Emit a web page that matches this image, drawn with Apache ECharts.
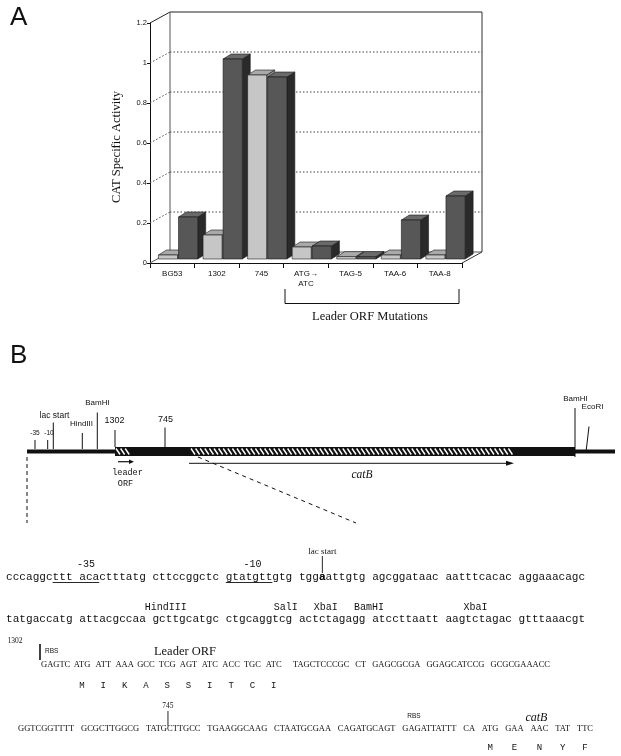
<!DOCTYPE html>
<html><head><meta charset="utf-8">
<script src="https://cdn.jsdelivr.net/npm/echarts@6/dist/echarts.min.js"></script>
<style>html,body{margin:0;padding:0;background:#fff}#c{width:621px;height:756px}</style>
</head><body><div id="c"></div>
<script>
// ---------- Panel A data ----------
const categories = ['BG53', '1302', '745', 'ATG\u2192\nATC', 'TAG-5', 'TAA-6', 'TAA-8'];
const lightValues = [0.02, 0.12, 0.92, 0.06, 0.012, 0.02, 0.02];
const darkValues  = [0.21, 1.00, 0.91, 0.065, 0.012, 0.195, 0.315];
const yTicks = [0, 0.2, 0.4, 0.6, 0.8, 1.0, 1.2];

// ---------- Panel B text content ----------
const seqLine1 = 'cccaggcttt acactttatg cttccggctc gtatgttgtg tggaattgtg agcggataac aatttcacac aggaaacagc';
const seqLine2 = 'tatgaccatg attacgccaa gcttgcatgc ctgcaggtcg actctagagg atccttaatt aagtctagac gtttaaacgt';
const line3Lead = 'GAGTC';
const line3Codons = ['ATG','ATT','AAA','GCC','TCG','AGT','ATC','ACC','TGC','ATC'];
const line3Tail = ['TAGCTCCCGC','CT','GAGCGCGA','GGAGCATCCG','GCGCGAAACC'];
const line3Aa = ['M','I','K','A','S','S','I','T','C','I'];
const line4Tokens = ['GGTCGGTTTT','GCGCTTGGCG','TATGCTTGCC','TGAAGGCAAG','CTAATGCGAA','CAGATGCAGT','GAGATTATTT','CA','ATG','GAA','AAC','TAT','TTC'];
const line4Aa = ['M','E','N','Y','F'];
const siteLabels2 = ['HindIII','SalI','XbaI','BamHI','XbaI'];

// ---------- layout ----------
const DEPTH = [20, -11];
const BAR_D = [8, -5];
const SANS = "'Liberation Sans', Arial, sans-serif";
const SERIF = "'Liberation Serif', 'Times New Roman', serif";
const MONO = "'Liberation Mono', 'Courier New', monospace";
const INK = '#111';

const mctx = document.createElement('canvas').getContext('2d');
function tw(s, font) { mctx.font = font; return mctx.measureText(s).width; }

function T(text, x, y, font, align, extra) {
  align = align || 'center';
  return Object.assign({type: 'text', x: x, y: y, silent: true,
    style: {text: text, font: font, fill: INK, align: align, verticalAlign: 'middle',
            textAlign: align, textVerticalAlign: 'middle'}}, extra || {});
}
function L(x1, y1, x2, y2, w, dash, color) {
  return {type: 'line', silent: true, shape: {x1: x1, y1: y1, x2: x2, y2: y2},
    style: {stroke: color || INK, lineWidth: w || 1, lineDash: dash || null}};
}
function R(x, y, w, h, fill) {
  return {type: 'rect', silent: true, shape: {x: x, y: y, width: w, height: h}, style: {fill: fill || INK}};
}
function P(points, fill) {
  return {type: 'polygon', silent: true, shape: {points: points}, style: {fill: fill || INK}};
}

const g = [];
g.push(T('A', 10, 18, '26px ' + SANS, 'left'));
g.push(T('B', 10, 356, '26px ' + SANS, 'left'));
g.push(T('CAT Specific Activity', 117, 147, '12.5px ' + SERIF, 'center', {rotation: Math.PI / 2}));
g.push(L(285, 289, 285, 303.5), L(285, 303.5, 459, 303.5), L(459, 289, 459, 303.5));
g.push(T('Leader ORF Mutations', 370, 316.5, '12.5px ' + SERIF));

// ---------- Panel B map ----------
g.push(R(27, 449.5, 90, 4));
g.push(R(115, 447, 460, 9));
g.push(R(575, 449.5, 40, 4));
function hatch(x0, x1) {
  for (let x = x0 + 1; x + 4 <= x1; x += 4.6) {
    g.push(L(x, 448.5, x + 4, 454.5, 1.4, null, '#fff'));
  }
}
hatch(115, 133);
hatch(190, 513);
g.push(L(35, 440, 35, 449), L(47.7, 440, 47.7, 449), L(53.3, 422.5, 53.3, 449));
g.push(L(82.3, 433, 82.3, 449), L(97.3, 412.5, 97.3, 449), L(115, 430, 115, 447));
g.push(L(165, 427.5, 165, 447), L(575, 408, 575, 457), L(589, 426.5, 586, 452));
g.push(T('-35', 35, 433, '6.5px ' + SANS), T('-10', 49, 433, '6.5px ' + SANS));
g.push(T('lac start', 54.5, 416, '8.5px ' + SANS), T('HindIII', 81.5, 424, '8px ' + SANS));
g.push(T('BamHI', 97.5, 403, '8px ' + SANS), T('1302', 114.5, 420.5, '9px ' + SANS));
g.push(T('745', 165.5, 419.5, '9px ' + SANS));
g.push(T('BamHI', 575.5, 399, '8px ' + SANS), T('EcoRI', 592.5, 407, '8px ' + SANS));
g.push(L(118, 461.7, 131, 461.7, 1.2), P([[134, 461.7], [129, 459.5], [129, 463.9]]));
g.push(T('leader', 127.5, 473, '8.5px ' + MONO), T('ORF', 125.5, 484, '8.5px ' + MONO));
g.push(L(189, 463.3, 509, 463.3, 1), P([[514, 463.3], [506, 460.8], [506, 465.8]]));
g.push(T('catB', 362, 474.5, 'italic 11.5px ' + SERIF));
g.push(L(27, 457, 27, 523, 1, [4, 3]), L(198, 457, 356, 523, 1, [4, 4]));

// ---------- sequences (monospace lines) ----------
const MONO_PX = 11.1, CW = MONO_PX * 0.6, SX = 6;
const cx = i => SX + (i + 0.5) * CW;
g.push(T(seqLine1, SX, 577, MONO_PX + 'px ' + MONO, 'left'));
g.push(T('a', SX + 47 * CW, 577, 'bold ' + MONO_PX + 'px ' + MONO, 'left'));
g.push(L(SX + 7 * CW, 582.5, SX + 14 * CW, 582.5, 0.9), L(SX + 33 * CW, 582.5, SX + 40 * CW, 582.5, 0.9));
g.push(T('-35', cx(11.5), 564, '10px ' + MONO), T('-10', cx(36.5), 564, '10px ' + MONO));
g.push(T('lac start', cx(47), 552, '9px ' + SERIF), L(cx(47), 556, cx(47), 573, 0.9));
g.push(T(seqLine2, SX, 619, MONO_PX + 'px ' + MONO, 'left'));
const site2Pos = [23.5, 41.5, 47.5, 54, 70];
siteLabels2.forEach((s, i) => g.push(T(s, cx(site2Pos[i]), 607.5, '10px ' + MONO)));

// ---------- serif sequence lines ----------
const SEQ_F = '8.5px ' + SERIF;
function layout(tokens, x0, x1) {
  const w = tokens.map(s => tw(s, SEQ_F));
  const total = w.reduce((a, b) => a + b, 0);
  const gap = (x1 - x0 - total) / (tokens.length - 1);
  const xs = []; let x = x0;
  w.forEach(v => { xs.push(x); x += v + gap; });
  return {xs: xs, w: w};
}
// line 3: leader codons at a fixed pitch, trailing groups packed against the right end
const Y3 = 665;
g.push(T(line3Lead, 41, Y3, SEQ_F, 'left'));
const codonC = line3Codons.map((s, i) => 82 + 21.3 * i);
line3Codons.forEach((s, i) => g.push(T(s, codonC[i], Y3, SEQ_F, 'center')));
line3Aa.forEach((s, i) => g.push(T(s, codonC[i], 686, '9px ' + MONO)));
let xr = 550;
for (let i = line3Tail.length - 1; i >= 0; i--) {
  g.push(T(line3Tail[i], xr, Y3, SEQ_F, 'right'));
  xr -= tw(line3Tail[i], SEQ_F) + 6;
}
g.push(T('1302', 15, 641, '7.5px ' + SERIF), L(40, 644, 40, 660, 1.6));
g.push(T('RBS', 45, 651.5, '6.5px ' + SANS, 'left'));
g.push(T('Leader ORF', codonC[3] + 8, 652, '12.5px ' + SERIF, 'left'));

const l4 = layout(line4Tokens, 18, 593);
line4Tokens.forEach((s, i) => g.push(T(s, l4.xs[i], 729, SEQ_F, 'left')));
line4Aa.forEach((s, i) => g.push(T(s, l4.xs[i + 8] + l4.w[i + 8] / 2, 748, '9px ' + MONO)));
const t745 = l4.xs[2] + tw('TATG', SEQ_F) + 1;
g.push(T('745', t745, 706.5, '7.5px ' + SERIF), L(t745, 711, t745, 726, 0.9));
g.push(T('RBS', l4.xs[6] + 5, 716.5, '6.5px ' + SANS, 'left'));
g.push(T('catB', l4.xs[10] + l4.w[10] / 2 - 3, 718, 'italic 12px ' + SERIF));

// ---------- Panel A custom renderers ----------
function renderWall(params, api) {
  const cs = params.coordSys;
  const x0 = cs.x, x1 = cs.x + cs.width, yB = cs.y + cs.height;
  const dx = DEPTH[0], dy = DEPTH[1];
  const yTop = api.coord([0, yTicks[yTicks.length - 1]])[1];
  const ch = [];
  const ln = (a, b, c, d, dash, col, w) => ({type: 'line', shape: {x1: a, y1: b, x2: c, y2: d},
    style: {stroke: col || '#222', lineWidth: w || 1, lineDash: dash || null}});
  yTicks.forEach(v => {
    if (v === 0 || v === yTicks[yTicks.length - 1]) return;
    const y = api.coord([0, v])[1];
    ch.push(ln(x0, y, x0 + dx, y + dy, [1.5, 2], '#444'));
    ch.push(ln(x0 + dx, y + dy, x1 + dx, y + dy, [1.5, 2], '#444'));
  });
  ch.push(ln(x0, yTop, x0 + dx, yTop + dy));
  ch.push(ln(x0 + dx, yTop + dy, x1 + dx, yTop + dy));
  ch.push(ln(x0 + dx, yTop + dy, x0 + dx, yB + dy, null, '#555'));
  ch.push(ln(x1 + dx, yTop + dy, x1 + dx, yB + dy, null, '#333'));
  ch.push(ln(x0, yB, x0 + dx, yB + dy, null, '#555'));
  ch.push(ln(x0 + dx, yB + dy, x1 + dx, yB + dy, null, '#555'));
  ch.push(ln(x1, yB, x1 + dx, yB + dy, null, '#333'));
  return {type: 'group', children: ch};
}

const LIGHT = {front: '#c6c6c6', top: '#a9a9a9', side: '#8a8a8a'};
const DARK = {front: '#575757', top: '#6a6a6a', side: '#2a2a2a'};
function box(x1, x2, yb, yt, col) {
  const dx = BAR_D[0], dy = BAR_D[1];
  const st = f => ({fill: f, stroke: '#1a1a1a', lineWidth: 0.6});
  return [
    {type: 'polygon', shape: {points: [[x2, yt], [x2 + dx, yt + dy], [x2 + dx, yb + dy], [x2, yb]]}, style: st(col.side)},
    {type: 'polygon', shape: {points: [[x1, yt], [x1 + dx, yt + dy], [x2 + dx, yt + dy], [x2, yt]]}, style: st(col.top)},
    {type: 'rect', shape: {x: x1, y: yt, width: x2 - x1, height: yb - yt}, style: st(col.front)}
  ];
}
function renderBars(params, api) {
  const i = api.value(0);
  const base = api.coord([i, 0]);
  const band = api.size([1, 0])[0];
  const cs0 = base[0] - band / 2;
  const lift = 4;
  const yb = base[1] - lift;
  const yl = api.coord([i, api.value(1)])[1] - lift;
  const yd = api.coord([i, api.value(2)])[1] - lift;
  const ch = [].concat(
    box(cs0 + 0.19 * band, cs0 + 0.617 * band, yb, yl, LIGHT),
    box(cs0 + 0.64 * band, cs0 + 1.07 * band, yb, yd, DARK));
  return {type: 'group', children: ch};
}

const barData = categories.map((c, i) => [i, lightValues[i], darkValues[i]]);

const chart = echarts.init(document.getElementById('c'), null, {renderer: 'canvas'});
chart.setOption({
  backgroundColor: '#fff',
  animation: false,
  grid: {left: 150, top: 23, width: 312, height: 240, containLabel: false},
  xAxis: {
    type: 'category', data: categories,
    axisLine: {lineStyle: {color: INK, width: 1}},
    axisTick: {show: true, length: 5, interval: 0, lineStyle: {color: INK}},
    axisLabel: {interval: 0, fontSize: 8, fontFamily: 'Liberation Sans', color: INK, margin: 6, lineHeight: 10}
  },
  yAxis: {
    type: 'value', min: 0, max: 1.2, interval: 0.2,
    axisLine: {show: true, lineStyle: {color: INK, width: 1}},
    axisTick: {show: true, length: 3, lineStyle: {color: INK}},
    axisLabel: {fontSize: 7.5, fontFamily: 'Liberation Sans', color: INK, margin: 3},
    splitLine: {show: false}
  },
  series: [
    {type: 'custom', name: 'wall', z: 1, silent: true, renderItem: renderWall, data: [[0, 0]],
     encode: {x: 0, y: 1}},
    {type: 'custom', name: 'activity', z: 2, silent: true, renderItem: renderBars, data: barData,
     encode: {x: 0, y: [1, 2]}}
  ],
  graphic: {elements: g}
});
</script>
</body></html>
